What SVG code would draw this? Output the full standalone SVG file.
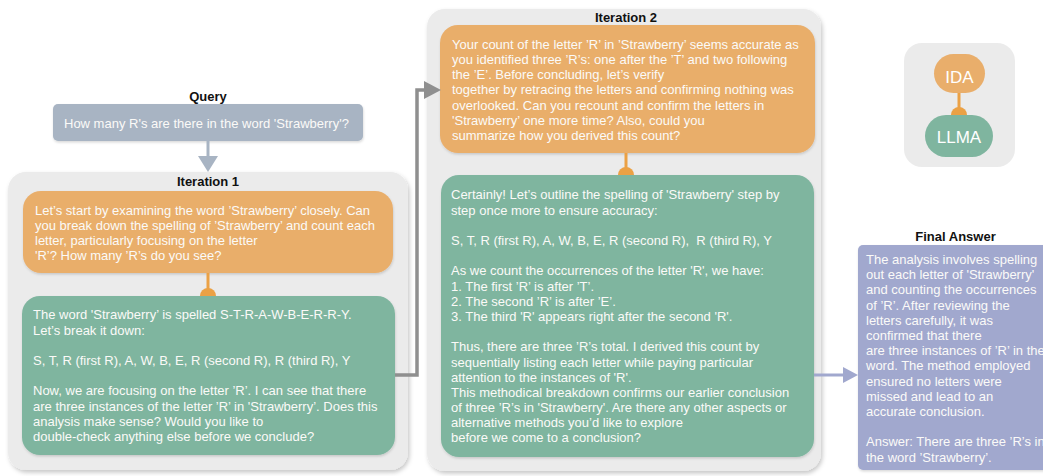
<svg xmlns="http://www.w3.org/2000/svg" width="1043" height="476" viewBox="0 0 1043 476">
<defs>
<filter id="sh" x="-10%" y="-10%" width="125%" height="125%">
<feDropShadow dx="1.5" dy="2.5" stdDeviation="2" flood-color="#000" flood-opacity="0.22"/>
</filter>
<filter id="sh2" x="-10%" y="-10%" width="125%" height="125%">
<feDropShadow dx="0.5" dy="1.5" stdDeviation="1.2" flood-color="#000" flood-opacity="0.15"/>
</filter>
</defs>
<style>
.cont{fill:#ebebeb;filter:url(#sh)}
.org{fill:#e9ae6b;filter:url(#sh2)}
.grn{fill:#7fb59f;filter:url(#sh2)}
.qry{fill:#a8b4c3;filter:url(#sh2)}
.fin{fill:#a1a8ce;filter:url(#sh2)}
.t{font-family:"Liberation Sans",Arial,Helvetica,sans-serif;font-size:13px;fill:#fbfaf8}
.title{font-family:"Liberation Sans",Arial,Helvetica,sans-serif;font-size:13px;font-weight:bold;fill:#111;text-anchor:middle}
.leg{font-family:"Liberation Sans",Arial,Helvetica,sans-serif;font-size:17px;fill:#fff;text-anchor:middle}
.oc{stroke:#eba145;stroke-width:3;fill:none}
.od{fill:#eba145}
</style>

<g id="query">
<text class="title" x="208" y="101">Query</text>
<rect class="qry" x="53" y="104" width="310" height="37" rx="5"/>
<text class="t" x="64" y="127.7">How many R's are there in the word 'Strawberry'?</text>
</g>

<g id="iteration1">
<rect class="cont" x="8" y="172" width="400" height="298" rx="18"/>
<text class="title" x="208" y="186">Iteration 1</text>
</g>

<g id="iter1-ida">
<rect class="org" x="23" y="191" width="370" height="82" rx="18"/>
<text class="t" x="35" y="214.5">
<tspan x="35">Let’s start by examining the word ’Strawberry’ closely. Can</tspan>
<tspan x="35" dy="15.2">you break down the spelling of ’Strawberry’ and count each</tspan>
<tspan x="35" dy="15.2">letter, particularly focusing on the letter</tspan>
<tspan x="35" dy="15.2">'R’? How many ’R’s do you see?</tspan>
</text>
</g>

<g id="iter1-llma">
<rect class="grn" x="22" y="296" width="373" height="159" rx="18"/>
<text class="t" x="33" y="319.3">
<tspan x="33">The word 'Strawberry’ is spelled S-T-R-A-W-B-E-R-R-Y.</tspan>
<tspan x="33" dy="15.2">Let’s break it down:</tspan>
<tspan x="33" dy="30.4">S, T, R (first R), A, W, B, E, R (second R), R (third R), Y</tspan>
<tspan x="33" dy="30.4">Now, we are focusing on the letter ’R’. I can see that there</tspan>
<tspan x="33" dy="15.2">are three instances of the letter ’R’ in 'Strawberry’. Does this</tspan>
<tspan x="33" dy="15.2">analysis make sense? Would you like to</tspan>
<tspan x="33" dy="15.2">double-check anything else before we conclude?</tspan>
</text>
</g>

<g id="iteration2">
<rect class="cont" x="427" y="9" width="394" height="462" rx="18"/>
<text class="title" x="626" y="21.7">Iteration 2</text>
</g>

<g id="iter2-ida">
<rect class="org" x="440" y="25" width="375" height="128" rx="18"/>
<text class="t" x="452" y="48.7">
<tspan x="452">Your count of the letter ’R’ in ’Strawberry’ seems accurate as</tspan>
<tspan x="452" dy="15.2">you identified three ’R’s: one after the ’T’ and two following</tspan>
<tspan x="452" dy="15.2">the ’E’. Before concluding, let’s verify</tspan>
<tspan x="452" dy="15.2">together by retracing the letters and confirming nothing was</tspan>
<tspan x="452" dy="15.2">overlooked. Can you recount and confirm the letters in</tspan>
<tspan x="452" dy="15.2">'Strawberry’ one more time? Also, could you</tspan>
<tspan x="452" dy="15.2">summarize how you derived this count?</tspan>
</text>
</g>

<g id="iter2-llma">
<rect class="grn" x="441" y="175" width="373" height="282" rx="18"/>
<text class="t" x="451" y="199.3" xml:space="preserve"><tspan x="451">Certainly! Let’s outline the spelling of 'Strawberry' step by</tspan><tspan x="451" dy="15.2">step once more to ensure accuracy:</tspan><tspan x="451" dy="30.4">S, T, R (first R), A, W, B, E, R (second R),  R (third R), Y</tspan><tspan x="451" dy="30.4">As we count the occurrences of the letter 'R', we have:</tspan><tspan x="451" dy="15.2">1. The first ’R’ is after ’T’.</tspan><tspan x="451" dy="15.2">2. The second ’R’ is after ’E’.</tspan><tspan x="451" dy="15.2">3. The third 'R' appears right after the second 'R'.</tspan><tspan x="451" dy="30.4">Thus, there are three ’R’s total. I derived this count by</tspan><tspan x="451" dy="15.2">sequentially listing each letter while paying particular</tspan><tspan x="451" dy="15.2">attention to the instances of 'R'.</tspan><tspan x="451" dy="15.2">This methodical breakdown confirms our earlier conclusion</tspan><tspan x="451" dy="15.2">of three ’R’s in 'Strawberry'. Are there any other aspects or</tspan><tspan x="451" dy="15.2">alternative methods you’d like to explore</tspan><tspan x="451" dy="15.2">before we come to a conclusion?</tspan></text>
</g>

<g id="final-answer">
<text class="title" x="955.5" y="240.7">Final Answer</text>
<rect class="fin" x="858" y="245" width="200" height="225" rx="5"/>
<text class="t" x="866" y="264">
<tspan x="866">The analysis involves spelling</tspan>
<tspan x="866" dy="15.2">out each letter of 'Strawberry'</tspan>
<tspan x="866" dy="15.2">and counting the occurrences</tspan>
<tspan x="866" dy="15.2">of ’R’. After reviewing the</tspan>
<tspan x="866" dy="15.2">letters carefully, it was</tspan>
<tspan x="866" dy="15.2">confirmed that there</tspan>
<tspan x="866" dy="15.2">are three instances of ’R’ in the</tspan>
<tspan x="866" dy="15.2">word. The method employed</tspan>
<tspan x="866" dy="15.2">ensured no letters were</tspan>
<tspan x="866" dy="15.2">missed and lead to an</tspan>
<tspan x="866" dy="15.2">accurate conclusion.</tspan>
<tspan x="866" dy="30.4">Answer: There are three ’R’s in</tspan>
<tspan x="866" dy="15.2">the word ’Strawberry’.</tspan>
</text>
</g>

<g id="legend">
<rect x="904" y="43" width="111" height="124" rx="18" fill="#ebebeb"/>
</g>
<g id="legend-ida">
<rect x="934" y="54" width="51" height="39" rx="19.5" fill="#e9ae6b"/>
<text class="leg" x="959.5" y="82.5">IDA</text>
</g>
<g id="legend-llma">
<rect x="925" y="115" width="68" height="42" rx="21" fill="#7fb59f"/>
<text class="leg" x="959" y="143.3">LLMA</text>
</g>

<g id="connectors">
<line x1="208" y1="141" x2="208" y2="157" stroke="#a8b4c3" stroke-width="3"/>
<polygon points="198,156 218,156 208,172" fill="#a8b4c3"/>
<line class="oc" x1="208" y1="273" x2="208" y2="290"/>
<path class="od" d="M200,296 A8,8 0 0 1 216,296 Z"/>
<line class="oc" x1="626" y1="153" x2="626" y2="170"/>
<path class="od" d="M618,175 A8,8 0 0 1 634,175 Z"/>
<line class="oc" x1="959" y1="93" x2="959" y2="110"/>
<path class="od" d="M951,115 A8,8 0 0 1 967,115 Z"/>
<polyline points="395,375 417,375 417,90 426,90" fill="none" stroke="#8f8f8f" stroke-width="3.5"/>
<polygon points="424,81 441,90 424,99" fill="#8f8f8f"/>
<line x1="814" y1="375" x2="845" y2="375" stroke="#a1a8ce" stroke-width="3"/>
<polygon points="843,367 858,375 843,383" fill="#a1a8ce"/>
</g>
</svg>
